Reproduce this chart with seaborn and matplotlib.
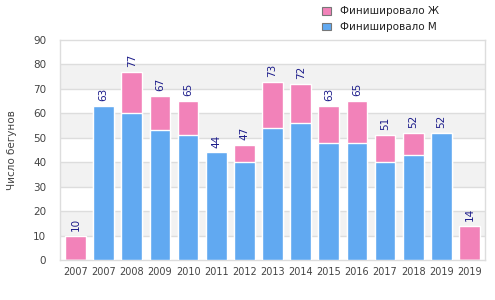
import pandas as pd
import seaborn as sns
import matplotlib.pyplot as plt

# данные
years = ['2007', '2007', '2008', '2009', '2010', '2011', '2012', '2013',
         '2014', '2015', '2016', '2017', '2018', '2019', '2019']
total = [10, 63, 77, 67, 65, 44, 47, 73, 72, 63, 65, 51, 52, 52, 14]
men = [0, 63, 60, 53, 51, 44, 40, 54, 56, 48, 48, 40, 43, 52, 0]

df = pd.DataFrame({'pos': range(len(years)), 'total': total, 'men': men})

sns.set_style('white')
plt.rcParams['font.family'] = ['DejaVu Sans']

fig = plt.figure(figsize=(4.95, 3.0), dpi=100)
ax = fig.add_axes([60 / 495, 40 / 300, 425 / 495, 220 / 300])

# полосы фона
for lo in range(10, 90, 20):
    ax.axhspan(lo, lo + 10, color='#f2f2f2', zorder=0, lw=0)
for y in range(10, 90, 10):
    ax.axhline(y, color='#dddddd', lw=1, zorder=0.5)

pink = '#f282b9'
blue = '#61a9f1'
sns.barplot(data=df, x='pos', y='total', color=pink, width=0.74,
            saturation=1, ax=ax, zorder=2, legend=False)
sns.barplot(data=df, x='pos', y='men', color=blue, width=0.74,
            saturation=1, ax=ax, zorder=3, legend=False)

for i, t in enumerate(total):
    ax.text(i, t + 2, str(t), rotation=90, ha='center', va='bottom',
            fontsize=7.5, color='#1c1c8a')

ax.set_ylim(0, 90)
ax.set_xlim(-0.55, len(years) - 0.45)
ax.set_yticks(range(0, 91, 10))
ax.set_xticks(range(len(years)))
ax.set_xticklabels(years)
ax.tick_params(axis='both', labelsize=7, colors='#444444', length=0, pad=5)
ax.tick_params(axis='y', labelsize=7.5, pad=10)
ax.set_xlabel('')
ax.set_ylabel('Число бегунов', fontsize=7.5, color='#444444')
ax.yaxis.set_label_coords(-43 / 425, 0.5)
for s in ax.spines.values():
    s.set_color('#dddddd')
    s.set_linewidth(1)

h = [plt.Rectangle((0, 0), 1, 1, fc=pink), plt.Rectangle((0, 0), 1, 1, fc=blue)]
l = ['Финишировало Ж', 'Финишировало М']
leg = fig.legend(h, l, loc='upper left', bbox_to_anchor=(313 / 495, 1.01),
                 frameon=False, fontsize=7.5, handlelength=0.8, handleheight=0.8,
                 handletextpad=0.9, labelspacing=0.55, labelcolor='#222222')
for p in leg.get_patches():
    p.set_edgecolor('#777777')
    p.set_linewidth(0.8)

plt.savefig('out.png', dpi=100)
